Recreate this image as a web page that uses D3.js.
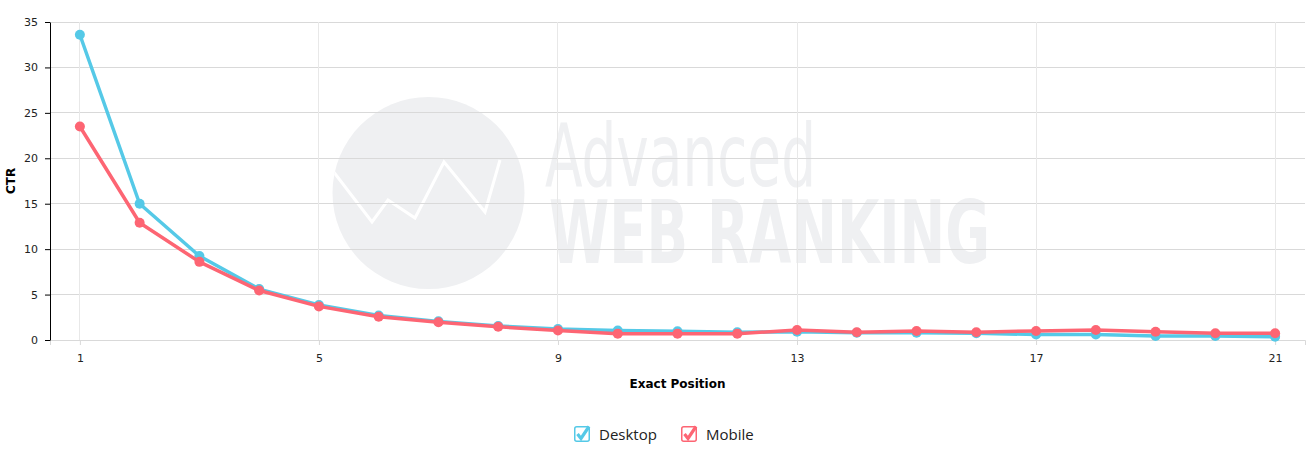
<!DOCTYPE html>
<html>
<head>
<meta charset="utf-8">
<script src="https://cdn.jsdelivr.net/npm/d3@7"></script>
<style>
  body { margin: 0; background: #fff; }
  svg { display: block; }
  .tick text { font-family: "DejaVu Sans", Verdana, sans-serif; font-size: 11px; fill: #222; }
</style>
</head>
<body>
<svg id="chart"></svg>
<script>
// exact position on the SERP
const positions = [1, 2, 3, 4, 5, 6, 7, 8, 9, 10, 11, 12, 13, 14, 15, 16, 17, 18, 19, 20, 21];
// CTR in percent
const desktop = [33.6, 15.0, 9.25, 5.6, 3.85, 2.7, 2.05, 1.55, 1.2, 1.05, 0.95, 0.85, 0.9, 0.8, 0.8, 0.75, 0.6, 0.6, 0.45, 0.45, 0.35];
const mobile = [23.5, 12.9, 8.6, 5.45, 3.7, 2.55, 1.95, 1.45, 1.05, 0.7, 0.7, 0.7, 1.1, 0.85, 1.0, 0.85, 1.0, 1.1, 0.9, 0.75, 0.75];
const xTicks = [1, 5, 9, 13, 17, 21];
const yTicks = [0, 5, 10, 15, 20, 25, 30, 35];
const seriesNames = ["Desktop", "Mobile"];
const seriesColors = ["#55c9e7", "#fd6573"];

const width = 1312, height = 455;
const plotLeft = 50, plotRight = 1305, plotTop = 22, plotBottom = 340;

const svg = d3.select("#chart").attr("width", width).attr("height", height);

const x = d3.scaleLinear().domain([0.5, 21.5]).range([plotLeft, plotRight]);
const y = d3.scaleLinear().domain([0, 35]).range([plotBottom, plotTop]);

// ==================== watermark =====================
const wm = svg.append("g").attr("fill", "#eff0f2");
wm.append("clipPath").attr("id", "globe")
  .append("circle").attr("cx", 428.5).attr("cy", 193).attr("r", 96);
wm.append("circle").attr("cx", 428.5).attr("cy", 193).attr("r", 96);
wm.append("polyline")
  .attr("clip-path", "url(#globe)")
  .attr("points", "326,162 372,222 388,200 415,218 444,162 485,212 500,160")
  .attr("fill", "none").attr("stroke", "#fff").attr("stroke-width", 3)
  .attr("stroke-linejoin", "miter");
wm.append("text")
  .attr("x", 545).attr("y", 186)
  .attr("font-family", "'Liberation Sans Narrow', 'DejaVu Sans Condensed', sans-serif")
  .attr("font-size", 87)
  .attr("textLength", 271).attr("lengthAdjust", "spacingAndGlyphs")
  .text("Advanced");
wm.append("text")
  .attr("x", 549).attr("y", 263)
  .attr("font-family", "'Liberation Sans Narrow', 'DejaVu Sans Condensed', sans-serif")
  .attr("font-weight", "bold")
  .attr("font-size", 87)
  .attr("textLength", 441).attr("lengthAdjust", "spacingAndGlyphs")
  .text("WEB RANKING");

// ==================== grid =====================
svg.append("g").selectAll("line")
  .data(yTicks)
  .enter().append("line")
  .attr("x1", plotLeft).attr("x2", plotRight)
  .attr("y1", d => y(d)).attr("y2", d => y(d))
  .attr("stroke", "#d9d9d9").attr("stroke-width", 1)
  .attr("shape-rendering", "crispEdges");

svg.append("g").selectAll("line")
  .data(xTicks)
  .enter().append("line")
  .attr("x1", d => x(d)).attr("x2", d => x(d))
  .attr("y1", plotTop).attr("y2", plotBottom)
  .attr("stroke", "#e8e8e8").attr("stroke-width", 1)
  .attr("shape-rendering", "crispEdges");

// ==================== axes =====================
const xAxis = svg.append("g")
  .attr("transform", `translate(0,${plotBottom})`)
  .call(d3.axisBottom(x).tickValues(xTicks).tickSize(5).tickPadding(9));
xAxis.select(".domain").attr("stroke", "#d9d9d9");
xAxis.selectAll(".tick line").attr("stroke", "#d9d9d9");

const yAxis = svg.append("g")
  .attr("transform", `translate(${plotLeft},0)`)
  .call(d3.axisLeft(y).tickValues(yTicks).tickSize(5).tickSizeOuter(0).tickPadding(7));
yAxis.select(".domain").attr("stroke", "#000");
yAxis.selectAll(".tick line").attr("stroke", "#000");

svg.append("text")
  .attr("x", (plotLeft + plotRight) / 2).attr("y", 388)
  .attr("text-anchor", "middle")
  .attr("font-family", "'DejaVu Sans', Verdana, sans-serif")
  .attr("font-size", 12).attr("font-weight", "bold")
  .text("Exact Position");

svg.append("text")
  .attr("transform", `translate(15,${(plotTop + plotBottom) / 2}) rotate(-90)`)
  .attr("text-anchor", "middle")
  .attr("font-family", "'DejaVu Sans', Verdana, sans-serif")
  .attr("font-size", 12).attr("font-weight", "bold")
  .text("CTR");

// ==================== series =====================
const series = [desktop, mobile].map((vals, i) => ({
  name: seriesNames[i],
  color: seriesColors[i],
  points: positions.map((p, j) => ({ p: p, v: vals[j] }))
}));

const line = d3.line().x(d => x(d.p)).y(d => y(d.v));

series.forEach(s => {
  const g = svg.append("g");
  g.append("path")
    .datum(s.points)
    .attr("d", line)
    .attr("fill", "none")
    .attr("stroke", s.color)
    .attr("stroke-width", 3.5)
    .attr("stroke-linejoin", "round");
  g.selectAll("circle")
    .data(s.points)
    .enter().append("circle")
    .attr("cx", d => x(d.p))
    .attr("cy", d => y(d.v))
    .attr("r", 5)
    .attr("fill", s.color);
});

// ==================== legend =====================
const legendX = [574, 681];
const legend = svg.append("g").selectAll("g")
  .data(series)
  .enter().append("g")
  .attr("transform", (d, i) => `translate(${legendX[i]},426)`);

legend.append("rect")
  .attr("x", 0.75).attr("y", 0.75)
  .attr("width", 14.5).attr("height", 14.5)
  .attr("rx", 2)
  .attr("fill", "#fff")
  .attr("stroke", d => d.color).attr("stroke-width", 1.5);
legend.append("path")
  .attr("d", "M3.5,8 L7,12.5 L15,0.5")
  .attr("fill", "none")
  .attr("stroke", d => d.color).attr("stroke-width", 3.2)
  .attr("stroke-linecap", "butt");
legend.append("text")
  .attr("x", 25).attr("y", 13.5)
  .attr("font-family", "'Open Sans', 'Noto Sans', sans-serif")
  .attr("font-size", 15)
  .attr("fill", "#222")
  .text(d => d.name);
</script>
</body>
</html>
